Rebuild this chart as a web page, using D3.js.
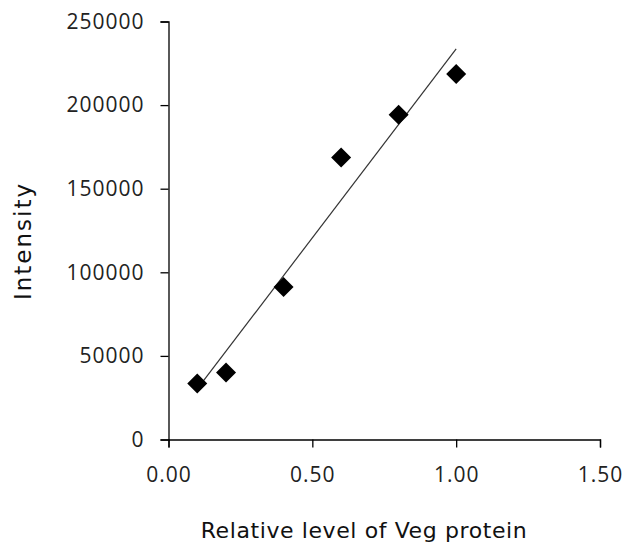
<!DOCTYPE html>
<html>
<head>
<meta charset="utf-8">
<script src="https://cdn.jsdelivr.net/npm/d3@7"></script>
<style>
  body { margin: 0; background: #fff; }
</style>
</head>
<body>
<svg id="chart"></svg>
<script>
// values
let levels = [0.1, 0.2, 0.4, 0.6, 0.8, 1.0];
let intensities = [33500, 40100, 91200, 168600, 194200, 218600];
let xTicks = [0, 0.5, 1.0, 1.5];
let yTicks = [0, 50000, 100000, 150000, 200000, 250000];

let width = 625, height = 553;
let svg = d3.select("#chart").attr("width", width).attr("height", height);

let xScale = d3.scaleLinear().domain([0, 1.5]).range([168.5, 600]);
let yScale = d3.scaleLinear().domain([0, 250000]).range([439.5, 21.5]);

let tickFont = "'Open Sans', sans-serif";
let titleFont = "'Comic Sans MS', 'DejaVu Sans', sans-serif";

// y axis
let yAxis = svg.append("g")
  .attr("transform", "translate(168.5,0)")
  .call(d3.axisLeft(yScale).tickValues(yTicks).tickSize(8).tickPadding(16).tickFormat(d3.format("d")));

// x axis
let xAxis = svg.append("g")
  .attr("transform", "translate(0,439.5)")
  .call(d3.axisBottom(xScale).tickValues(xTicks).tickSize(8).tickPadding(20).tickFormat(d3.format(".2f")));

[xAxis, yAxis].forEach(ax => {
  ax.select(".domain").attr("stroke", "#000").attr("stroke-width", 1.3);
  ax.selectAll(".tick line").attr("stroke", "#000").attr("stroke-width", 1.3);
  ax.selectAll("text")
    .attr("font-family", tickFont)
    .attr("font-size", "21px")
    .attr("letter-spacing", "1px")
    .attr("fill", "#222");
});

// linear trendline (least squares)
let mx = d3.mean(levels), my = d3.mean(intensities);
let sxy = d3.sum(levels, (x, i) => (x - mx) * (intensities[i] - my));
let sxx = d3.sum(levels, x => (x - mx) * (x - mx));
let slope = sxy / sxx;
let intercept = my - slope * mx;
let lineEnds = d3.extent(levels);

svg.append("line")
  .attr("x1", xScale(lineEnds[0]))
  .attr("y1", yScale(intercept + slope * lineEnds[0]))
  .attr("x2", xScale(lineEnds[1]))
  .attr("y2", yScale(intercept + slope * lineEnds[1]))
  .attr("stroke", "#333")
  .attr("stroke-width", 1.2);

// diamond markers
svg.selectAll("path.pt")
  .data(levels)
  .enter()
  .append("path")
  .attr("class", "pt")
  .attr("d", "M0,-10L10,0L0,10L-10,0Z")
  .attr("transform", (d, i) => "translate(" + xScale(d) + "," + yScale(intensities[i]) + ")")
  .attr("fill", "#000");

// axis titles
svg.append("text")
  .attr("x", 364)
  .attr("y", 538)
  .attr("text-anchor", "middle")
  .attr("font-family", titleFont)
  .attr("font-size", "22px")
  .attr("letter-spacing", "0.6px")
  .attr("fill", "#111")
  .text("Relative level of Veg protein");

svg.append("text")
  .attr("transform", "translate(31,241) rotate(-90)")
  .attr("text-anchor", "middle")
  .attr("font-family", titleFont)
  .attr("font-size", "23px")
  .attr("letter-spacing", "2px")
  .attr("fill", "#111")
  .text("Intensity");
</script>
</body>
</html>
